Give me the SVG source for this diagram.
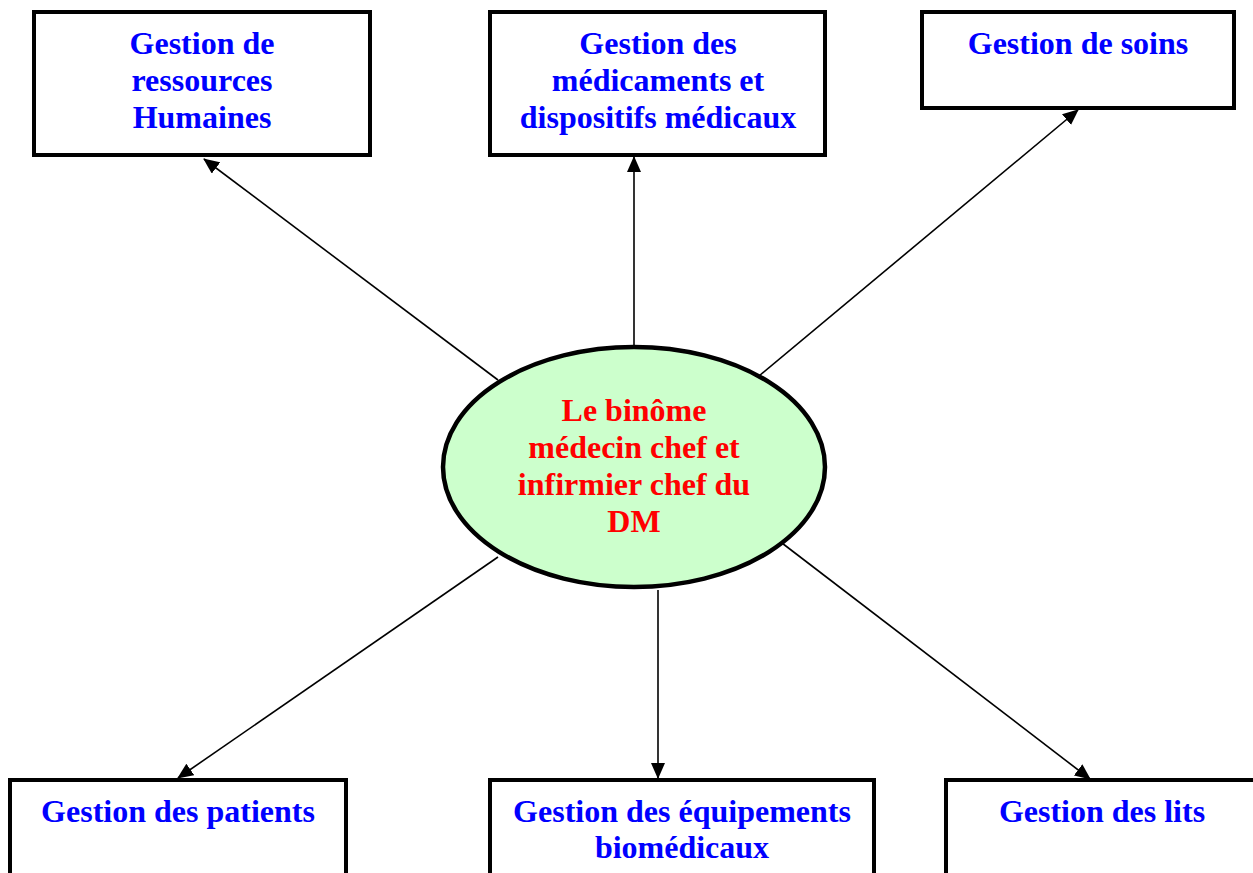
<svg xmlns="http://www.w3.org/2000/svg" width="1253" height="873" viewBox="0 0 1253 873">
<style>
.box{fill:#fff;stroke:#000;stroke-width:4}
.bt{font-family:"Liberation Serif","Times New Roman",serif;font-weight:bold;font-size:32px;fill:#0000FF;text-anchor:middle}
.rt{font-family:"Liberation Serif","Times New Roman",serif;font-weight:bold;font-size:32px;fill:#FF0000;text-anchor:middle}
.conn{stroke:#000;stroke-width:1.6;fill:none;marker-end:url(#arr)}
</style>
<defs>
<marker id="arr" markerUnits="userSpaceOnUse" markerWidth="16" markerHeight="14" refX="15" refY="7" orient="auto">
<path d="M0,0 L16,7 L0,14 Z" fill="#000"/>
</marker>
</defs>
<rect width="1253" height="873" fill="#fff"/>
<g id="connectors">
<line class="conn" x1="498" y1="380" x2="204" y2="159"/>
<line class="conn" x1="634" y1="346" x2="634" y2="157"/>
<line class="conn" x1="753" y1="381" x2="1078" y2="110"/>
<line class="conn" x1="498" y1="557" x2="178" y2="778"/>
<line class="conn" x1="658" y1="590" x2="658" y2="778"/>
<line class="conn" x1="778" y1="540" x2="1090" y2="779"/>
</g>
<g id="center">
<ellipse cx="634" cy="467" rx="191" ry="120" fill="#CCFFCC" stroke="#000" stroke-width="4.5"/>
<text class="rt" x="634" y="421">Le binôme</text>
<text class="rt" x="634" y="458">médecin chef et</text>
<text class="rt" x="634" y="495">infirmier chef du</text>
<text class="rt" x="634" y="532">DM</text>
</g>
<g id="rh">
<rect class="box" x="34" y="12" width="336" height="143"/>
<text class="bt" x="202" y="54">Gestion de</text>
<text class="bt" x="202" y="91">ressources</text>
<text class="bt" x="202" y="128">Humaines</text>
</g>
<g id="med">
<rect class="box" x="490" y="12" width="335" height="143"/>
<text class="bt" x="658" y="54">Gestion des</text>
<text class="bt" x="658" y="91">médicaments et</text>
<text class="bt" x="658" y="128">dispositifs médicaux</text>
</g>
<g id="soins">
<rect class="box" x="922" y="12" width="312" height="96"/>
<text class="bt" x="1078" y="54">Gestion de soins</text>
</g>
<g id="patients">
<rect class="box" x="10" y="780" width="336" height="120"/>
<text class="bt" x="178" y="822">Gestion des patients</text>
</g>
<g id="equip">
<rect class="box" x="490" y="780" width="384" height="120"/>
<text class="bt" x="682" y="822">Gestion des équipements</text>
<text class="bt" x="682" y="858">biomédicaux</text>
</g>
<g id="lits">
<rect class="box" x="946" y="780" width="320" height="120"/>
<text class="bt" x="1102" y="822">Gestion des lits</text>
</g>
</svg>
